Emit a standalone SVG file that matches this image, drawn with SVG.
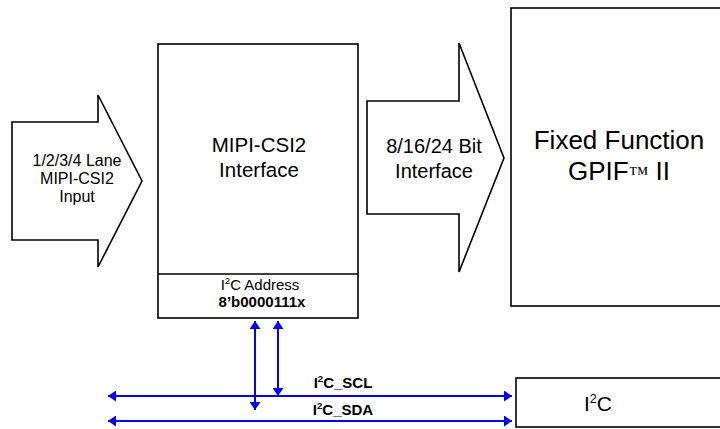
<svg xmlns="http://www.w3.org/2000/svg" width="720" height="429" viewBox="0 0 720 429">
<style>
.shape{fill:#fff;stroke:#000;stroke-width:1.6}
.t{font-family:"Liberation Sans",Arial,sans-serif;fill:#000;text-anchor:middle}
.bus{stroke:#0000ff;stroke-width:2;fill:none;marker-start:url(#ah);marker-end:url(#ah)}
</style>
<defs>
<marker id="ah" viewBox="0 0 10 10" refX="10" refY="5" markerWidth="8" markerHeight="11" preserveAspectRatio="none" orient="auto-start-reverse" markerUnits="userSpaceOnUse">
<path d="M0,0 L10,5 L0,10 z" fill="#0000ff"/>
</marker>
</defs>
<rect width="720" height="429" fill="#fff"/>
<g id="input-arrow">
<polygon class="shape" points="12,122 98,122 98,95 142,181 98,267 98,240 12,240"/>
<text class="t" font-size="16"><tspan x="77" y="166">1/2/3/4 Lane</tspan><tspan x="77" y="184">MIPI-CSI2</tspan><tspan x="77" y="202">Input</tspan></text>
</g>
<g id="mipi-csi2">
<rect class="shape" x="158" y="44" width="200" height="274"/>
<line x1="158" y1="274" x2="358" y2="274" stroke="#000" stroke-width="1.6"/>
<text class="t" font-size="20.5"><tspan x="259" y="152">MIPI-CSI2</tspan><tspan x="259" y="177">Interface</tspan></text>
<text class="t" font-size="15" x="260" y="290">I<tspan font-size="9.5" dy="-6">2</tspan><tspan dy="6">C Address</tspan></text>
<text class="t" font-size="15" font-weight="bold" x="262" y="307">8’b0000111x</text>
</g>
<g id="bit-interface-arrow">
<polygon class="shape" points="367,101 459,101 459,43 504,158 459,272 459,214 367,214"/>
<text class="t" font-size="20"><tspan x="434" y="153">8/16/24 Bit</tspan><tspan x="434" y="178">Interface</tspan></text>
</g>
<g id="gpif">
<rect class="shape" x="511" y="8" width="220" height="298"/>
<text class="t" font-size="26"><tspan x="619" y="149">Fixed Function</tspan><tspan x="619" y="180">GPIF<tspan font-family="Liberation Serif,serif" font-size="20">™</tspan> II</tspan></text>
</g>
<g id="i2c">
<rect class="shape" x="516" y="378" width="215" height="49"/>
<text class="t" font-size="21" x="598" y="411">I<tspan font-size="12.5" dy="-8">2</tspan><tspan dy="8">C</tspan></text>
</g>
<g id="connectors">
<line class="bus" x1="108" y1="396" x2="512" y2="396"/>
<line class="bus" x1="108" y1="421" x2="512" y2="421"/>
<line class="bus" x1="255" y1="321" x2="255" y2="410"/>
<line class="bus" x1="278" y1="321" x2="278" y2="396"/>
<text class="t" font-size="15" font-weight="bold" x="343" y="388">I<tspan font-size="9.5" dy="-6">2</tspan><tspan dy="6">C_SCL</tspan></text>
<text class="t" font-size="15" font-weight="bold" x="343" y="415">I<tspan font-size="9.5" dy="-6">2</tspan><tspan dy="6">C_SDA</tspan></text>
</g>
</svg>
